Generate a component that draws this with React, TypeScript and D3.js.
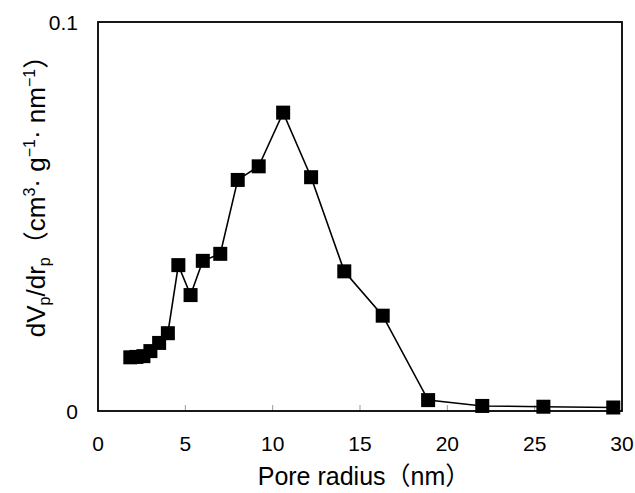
import React, { useEffect, useRef } from 'react';
import * as d3 from 'd3';

const width = 635,
      height = 493;

const margin = { top: 22, right: 13, bottom: 82, left: 98 };

// pore radius (nm) and dVp/drp (cm3 g-1 nm-1)
const radius = [1.85, 2.2, 2.6, 3.0, 3.5, 4.0, 4.6, 5.3, 6.0, 7.0, 8.0, 9.2, 10.6, 12.2, 14.1, 16.3, 18.9, 22.0, 25.5, 29.5];
const dVdr = [0.0138, 0.0139, 0.0141, 0.0154, 0.0175, 0.0200, 0.0375, 0.0298, 0.0386, 0.0404, 0.0594, 0.0629, 0.0767, 0.0601, 0.0359, 0.0245, 0.0028, 0.0013, 0.0011, 0.0009];

const xTicks = [0, 5, 10, 15, 20, 25, 30];
const yTicks = [0, 0.1];

const FONT = "'Liberation Sans', Arial, 'Noto Sans CJK JP', sans-serif";

const App = () => {
    const ref = useRef<SVGSVGElement>(null);

    useEffect(() => {
        const svg = d3.select(ref.current);
        svg.selectAll('*').remove();

        const x = d3.scaleLinear().domain([0, 30]).range([margin.left, width - margin.right]);
        const y = d3.scaleLinear().domain([0, 0.1]).range([height - margin.bottom, margin.top]);

        const data = radius.map((r, i) => ({ r, v: dVdr[i] }));

        // inner tick marks on the bottom axis
        svg.append('g')
            .selectAll('line')
            .data(xTicks.slice(1, -1))
            .enter().append('line')
            .attr('x1', d => x(d)).attr('x2', d => x(d))
            .attr('y1', y(0)).attr('y2', y(0) - 6)
            .attr('stroke', '#999')
            .attr('stroke-width', 1);

        // frame
        svg.append('rect')
            .attr('x', x(0)).attr('y', y(0.1))
            .attr('width', x(30) - x(0)).attr('height', y(0) - y(0.1))
            .attr('fill', 'none')
            .attr('stroke', '#000')
            .attr('stroke-width', 1.8);

        // tick labels
        svg.append('g')
            .selectAll('text')
            .data(xTicks)
            .enter().append('text')
            .attr('x', d => x(d))
            .attr('y', y(0) + 40)
            .attr('text-anchor', 'middle')
            .attr('font-family', FONT)
            .attr('font-size', 21)
            .text(d => d);

        svg.append('g')
            .selectAll('text')
            .data(yTicks)
            .enter().append('text')
            .attr('x', x(0) - 20)
            .attr('y', d => y(d) + 8)
            .attr('text-anchor', 'end')
            .attr('font-family', FONT)
            .attr('font-size', 21)
            .text(d => d);

        // series
        const line = d3.line<{ r: number; v: number }>().x(d => x(d.r)).y(d => y(d.v));
        svg.append('path')
            .datum(data)
            .attr('d', line)
            .attr('fill', 'none')
            .attr('stroke', '#000')
            .attr('stroke-width', 1.6);

        const s = 14;
        svg.append('g')
            .selectAll('rect')
            .data(data)
            .enter().append('rect')
            .attr('x', d => x(d.r) - s / 2)
            .attr('y', d => y(d.v) - s / 2)
            .attr('width', s).attr('height', s)
            .attr('fill', '#000');

        // axis titles
        svg.append('text')
            .attr('x', (x(0) + x(30)) / 2 + 4)
            .attr('y', 485)
            .attr('text-anchor', 'middle')
            .attr('font-family', FONT)
            .attr('font-size', 25)
            .text('Pore radius（nm）');

        const yt = svg.append('text')
            .attr('transform', 'translate(45, 190) rotate(-90)')
            .attr('text-anchor', 'middle')
            .attr('font-family', FONT)
            .attr('font-size', 26);
        yt.append('tspan').text('dV');
        yt.append('tspan').attr('font-size', 16).attr('dy', 5).text('p');
        yt.append('tspan').attr('dy', -5).text('/dr');
        yt.append('tspan').attr('font-size', 16).attr('dy', 5).text('p');
        yt.append('tspan').attr('dy', -5).text('（cm');
        yt.append('tspan').attr('font-size', 16).attr('dy', -10).text('3');
        yt.append('tspan').attr('dy', 10).text('· g');
        yt.append('tspan').attr('font-size', 16).attr('dy', -10).text('−1');
        yt.append('tspan').attr('dy', 10).text('· nm');
        yt.append('tspan').attr('font-size', 16).attr('dy', -10).text('−1');
        yt.append('tspan').attr('dy', 10).text('）');
    }, []);

    return (
        <svg
            ref={ref}
            width={width}
            height={height}
            style={{ position: 'absolute', left: 0, top: 0, background: '#fff' }}
        />
    );
};

export default App;
